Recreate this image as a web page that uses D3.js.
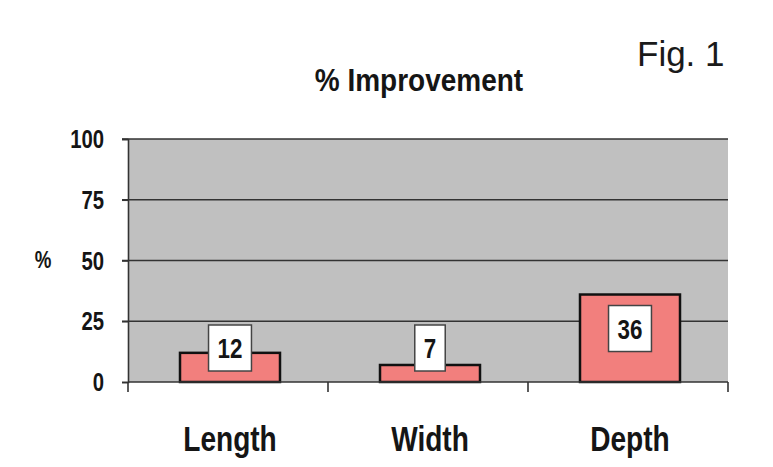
<!DOCTYPE html>
<html>
<head>
<meta charset="utf-8">
<script src="https://cdn.jsdelivr.net/npm/d3@7/dist/d3.min.js"></script>
<style>
  html, body { margin: 0; padding: 0; background: #fff; }
  svg { display: block; }
</style>
</head>
<body>
<svg id="chart" width="773" height="467"></svg>
<script>
// Chart data
const categories = ["Length", "Width", "Depth"];
const improvement = [12, 7, 36];
const yTicks = [0, 25, 50, 75, 100];
const titleText = "% Improvement";
const yAxisLabel = "%";
const figLabel = "Fig. 1";

const W = 773, H = 467;
const plot = { left: 128, right: 728, top: 139, bottom: 382 };
const condensed = 0.78; // horizontal squeeze for the narrow bold lettering
const ink = "#151515";

const svg = d3.select("#chart");

const x = d3.scaleBand()
  .domain(categories)
  .range([plot.left, plot.right])
  .paddingInner(0.5)
  .paddingOuter(0.25);

const y = d3.scaleLinear()
  .domain([0, 100])
  .range([plot.bottom, plot.top]);

// helper: condensed text placed at (px, py)
function narrowText(parent, px, py, str, size, anchor, weight, sx) {
  const g = parent.append("g").attr("transform", `translate(${px},${py})`);
  const t = g.append("text")
    .attr("transform", `scale(${sx == null ? condensed : sx},1)`)
    .attr("text-anchor", anchor)
    .attr("font-family", "'Liberation Sans', Arial, sans-serif")
    .attr("font-weight", weight || "bold")
    .attr("font-size", size)
    .attr("fill", ink)
    .text(str);
  return t;
}

// plot background
svg.append("rect")
  .attr("x", plot.left)
  .attr("y", plot.top)
  .attr("width", plot.right - plot.left)
  .attr("height", plot.bottom - plot.top)
  .attr("fill", "#c0c0c0");

// horizontal gridlines (with tick stubs left of the axis)
svg.append("g")
  .selectAll("line")
  .data(yTicks.filter(d => d > 0))
  .join("line")
  .attr("x1", plot.left - 6)
  .attr("x2", plot.right)
  .attr("y1", d => y(d))
  .attr("y2", d => y(d))
  .attr("stroke", "#333")
  .attr("stroke-width", 1.6);

// y axis
const yAxis = d3.axisLeft(y)
  .tickValues(yTicks)
  .tickSize(6)
  .tickFormat("");
const yg = svg.append("g")
  .attr("transform", `translate(${plot.left},0)`)
  .call(yAxis);
yg.select(".domain").attr("stroke", "#333").attr("stroke-width", 1.6);
yg.selectAll(".tick line").attr("stroke", "#333").attr("stroke-width", 1.6);

// y tick labels
const ytl = svg.append("g");
yTicks.forEach(v => {
  narrowText(ytl, 104, y(v) + 9, String(v), 26, "end");
});

// y axis title
narrowText(svg, 43, y(50) + 7, yAxisLabel, 24, "middle");

// bars
svg.append("g")
  .selectAll("rect")
  .data(improvement)
  .join("rect")
  .attr("x", (d, i) => x(categories[i]) + 2)
  .attr("y", d => y(d))
  .attr("width", x.bandwidth())
  .attr("height", d => y(0) - y(d))
  .attr("fill", "#f27f7d")
  .attr("stroke", "#111")
  .attr("stroke-width", 2.5);

// x axis line with category separators
const xg = svg.append("g");
xg.append("line")
  .attr("x1", plot.left).attr("x2", plot.right)
  .attr("y1", plot.bottom).attr("y2", plot.bottom)
  .attr("stroke", "#333").attr("stroke-width", 1.6);
const seps = [plot.left].concat(categories.map(c => x(c) + x.step() * 0.75));
xg.selectAll("line.sep")
  .data(seps)
  .join("line")
  .attr("class", "sep")
  .attr("x1", d => d).attr("x2", d => d)
  .attr("y1", plot.bottom).attr("y2", plot.bottom + 10)
  .attr("stroke", "#333").attr("stroke-width", 1.6);

// category labels
categories.forEach(c => {
  narrowText(svg, x(c) + x.bandwidth() / 2 + 2, 451, c, 36, "middle");
});

// value labels in white boxes
const boxH = 46, gap = 11;
const lg = svg.append("g");
improvement.forEach((v, i) => {
  const cx = x(categories[i]) + x.bandwidth() / 2 + 2;
  const barH = y(0) - y(v);
  const top = barH >= boxH + 2 * gap ? y(v) + gap : y(0) - gap - boxH;
  const box = lg.append("rect");
  const t = narrowText(lg, cx, top + boxH / 2 + 10, String(v), 28, "middle", "bold", 0.8);
  const tw = t.node().getBBox().width * 0.8;
  box.attr("x", cx - tw / 2 - 9)
    .attr("y", top)
    .attr("width", tw + 18)
    .attr("height", boxH)
    .attr("fill", "#fff")
    .attr("stroke", "#444")
    .attr("stroke-width", 1.5);
});

// chart title
narrowText(svg, 419, 91, titleText, 32, "middle", "bold", 0.875);

// figure tag
svg.append("text")
  .attr("x", 637)
  .attr("y", 66)
  .attr("font-family", "'Liberation Sans', Arial, sans-serif")
  .attr("font-size", 35)
  .attr("fill", "#1a1a1a")
  .text(figLabel);
</script>
</body>
</html>
